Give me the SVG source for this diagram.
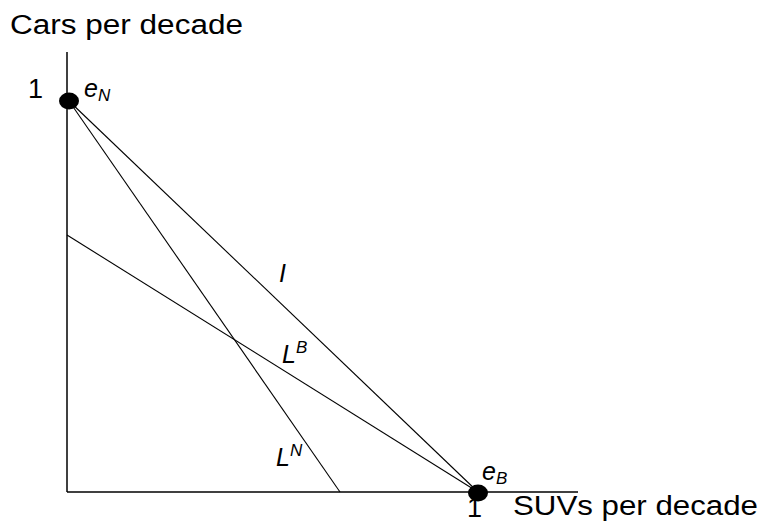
<svg xmlns="http://www.w3.org/2000/svg" width="762" height="523" viewBox="0 0 762 523">
<style>
.ax{stroke:#000;stroke-width:1.5;fill:none}
.ln{stroke:#000;stroke-width:1.1;fill:none}
.t{font-family:"Liberation Sans",Arial,sans-serif;font-size:27px;fill:#000}
.it{font-family:"Liberation Sans",Arial,sans-serif;font-style:italic;font-size:25px;fill:#000}
.sub{font-size:17px}
.dot{fill:#000}
</style>
<rect width="762" height="523" fill="#fff"/>
<g id="axes">
<line class="ax" x1="67" y1="52" x2="67" y2="492"/>
<line class="ax" x1="67" y1="492" x2="578" y2="492"/>
</g>
<g id="connectors">
<line class="ln" x1="69" y1="101" x2="478" y2="492"/>
<line class="ln" x1="69" y1="101" x2="340" y2="492"/>
<line class="ln" x1="67" y1="235" x2="478" y2="492"/>
</g>
<g id="eN">
<ellipse class="dot" cx="69" cy="101" rx="10" ry="8.5"/>
<text class="it" x="84" y="97" font-size="26">e<tspan class="sub" dy="4">N</tspan></text>
</g>
<g id="eB">
<ellipse class="dot" cx="478" cy="493" rx="10" ry="8.5"/>
<text class="it" x="482" y="480">e<tspan class="sub" dy="4">B</tspan></text>
</g>
<g id="labels">
<text class="t" x="10" y="34" textLength="233" lengthAdjust="spacingAndGlyphs">Cars per decade</text>
<text class="t" x="513" y="515" textLength="245" lengthAdjust="spacingAndGlyphs">SUVs per decade</text>
<text class="t" x="28" y="98">1</text>
<text class="t" x="467" y="517" font-size="25">1</text>
<text class="it" x="279" y="282">I</text>
<text class="it" x="282" y="363">L<tspan class="sub" dy="-10">B</tspan></text>
<text class="it" x="276" y="466">L<tspan class="sub" dy="-10">N</tspan></text>
</g>
</svg>
